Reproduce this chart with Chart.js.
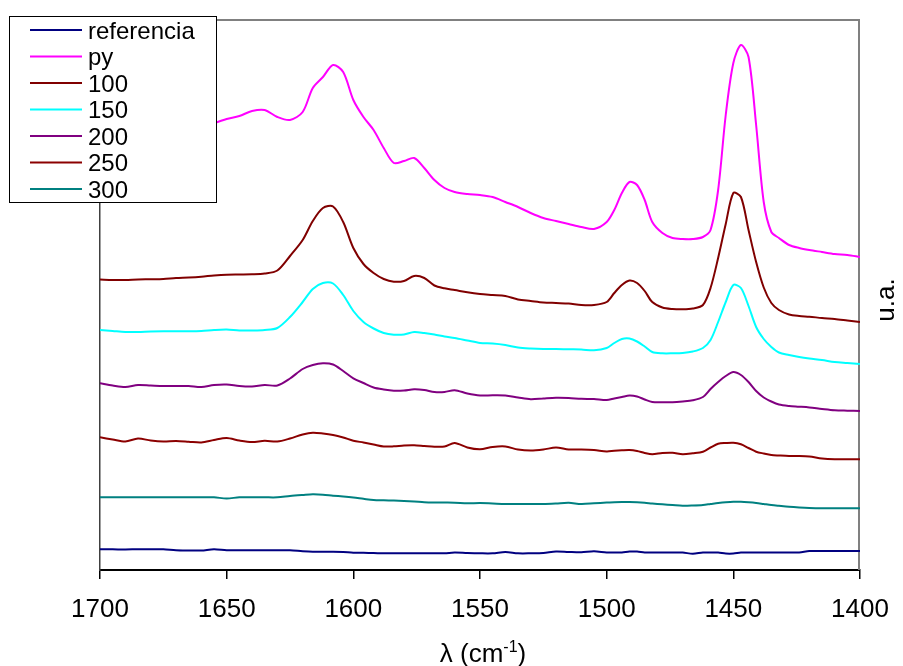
<!DOCTYPE html>
<html>
<head>
<meta charset="utf-8">
<script src="https://cdn.jsdelivr.net/npm/chart.js@4/dist/chart.umd.min.js"></script>
<style>
  html, body { margin: 0; padding: 0; background: #ffffff; }
  #wrap { width: 903px; height: 666px; }
</style>
</head>
<body>
<div id="wrap"><canvas id="c" width="903" height="666"></canvas></div>
<script>
// Wavenumber grid (cm-1), shared by every spectrum; denser around the bands.
const wavenumbers = [
  1700,1695,1690,1685,1680,1675,1670,1665,1660,1655,1650,1645,1640,1635,1630,1625,1620,
  1616,1612,1608,1604,1600,1596,1592,1588,1584,1580,1576,1572,1568,1564,1560,
  1555,1550,1545,1540,1535,1530,1525,1520,1515,1510,1505,1500,
  1497,1494,1491,1488,1485,1482,
  1478,1474,1470,1466,1462,
  1459,1456,1453,1450,1447,1444,1441,1438,1435,1432,
  1428,1424,1420,
  1415,1410,1405,1400
];

// Stacked spectra, arbitrary units (u.a.)
const referencia = [
  0.207,0.207,0.205,0.208,0.208,0.208,0.197,0.195,0.195,0.207,0.197,0.197,0.197,0.197,0.197,0.197,0.188,
  0.183,0.183,0.183,0.180,0.173,0.172,0.170,0.167,0.167,0.167,0.167,0.167,0.167,0.167,0.175,
  0.170,0.167,0.167,0.180,0.167,0.167,0.170,0.185,0.180,0.177,0.187,0.175,
  0.175,0.175,0.185,0.185,0.175,0.175,
  0.175,0.175,0.175,0.162,0.175,
  0.175,0.175,0.165,0.165,0.175,0.175,0.175,0.175,0.175,0.175,
  0.175,0.175,0.190,
  0.190,0.190,0.190,0.190
];
const py = [
  4.25,4.28,4.31,4.34,4.36,4.39,4.41,4.43,4.45,4.47,4.51,4.54,4.59,4.60,4.53,4.50,4.58,
  4.82,4.93,5.05,4.98,4.70,4.53,4.40,4.22,4.07,4.09,4.12,4.02,3.90,3.82,3.78,
  3.76,3.75,3.73,3.68,3.63,3.57,3.52,3.49,3.46,3.43,3.41,3.48,
  3.60,3.77,3.88,3.85,3.70,3.48,
  3.37,3.32,3.31,3.31,3.33,
  3.40,3.80,4.55,5.07,5.25,5.13,4.45,3.68,3.38,3.32,
  3.25,3.22,3.20,
  3.18,3.16,3.15,3.13
];
const s100 = [
  2.905,2.900,2.900,2.905,2.907,2.910,2.920,2.925,2.933,2.945,2.953,2.955,2.957,2.965,2.995,3.140,3.300,
  3.490,3.620,3.635,3.480,3.220,3.060,2.970,2.910,2.883,2.890,2.940,2.920,2.845,2.817,2.800,
  2.777,2.760,2.750,2.740,2.705,2.690,2.675,2.670,2.665,2.650,2.650,2.680,
  2.770,2.850,2.895,2.870,2.790,2.680,
  2.625,2.610,2.607,2.615,2.650,
  2.820,3.120,3.460,3.770,3.730,3.400,3.080,2.825,2.670,2.600,
  2.555,2.540,2.533,
  2.520,2.510,2.495,2.480
];
const s150 = [
  2.400,2.390,2.380,2.380,2.385,2.387,2.387,2.387,2.390,2.400,2.405,2.395,2.395,2.400,2.420,2.530,2.680,
  2.810,2.870,2.865,2.750,2.590,2.480,2.415,2.370,2.353,2.355,2.380,2.370,2.355,2.335,2.320,
  2.295,2.270,2.265,2.250,2.225,2.215,2.210,2.210,2.207,2.205,2.197,2.220,
  2.270,2.310,2.315,2.285,2.235,2.180,
  2.167,2.167,2.170,2.185,2.220,
  2.300,2.480,2.680,2.850,2.820,2.640,2.430,2.310,2.230,2.175,
  2.150,2.130,2.115,
  2.100,2.080,2.070,2.060
];
const s200 = [
  1.867,1.845,1.830,1.850,1.845,1.840,1.840,1.840,1.830,1.850,1.855,1.840,1.835,1.850,1.845,1.915,2.010,
  2.050,2.067,2.055,1.990,1.917,1.870,1.825,1.805,1.793,1.795,1.807,1.800,1.780,1.780,1.798,
  1.765,1.745,1.747,1.745,1.725,1.707,1.715,1.722,1.720,1.712,1.710,1.700,
  1.715,1.730,1.745,1.735,1.705,1.680,
  1.677,1.677,1.685,1.697,1.730,
  1.810,1.880,1.940,1.980,1.950,1.880,1.790,1.725,1.685,1.655,
  1.640,1.633,1.625,
  1.610,1.597,1.593,1.590
];
const s250 = [
  1.327,1.305,1.285,1.315,1.295,1.285,1.290,1.283,1.275,1.300,1.320,1.295,1.280,1.292,1.285,1.315,1.355,
  1.373,1.365,1.350,1.325,1.293,1.275,1.255,1.235,1.237,1.245,1.247,1.240,1.233,1.235,1.270,
  1.225,1.207,1.230,1.235,1.205,1.195,1.205,1.225,1.205,1.205,1.200,1.185,
  1.192,1.197,1.200,1.190,1.170,1.157,
  1.170,1.172,1.157,1.167,1.183,
  1.225,1.262,1.270,1.273,1.257,1.220,1.183,1.165,1.150,1.145,
  1.140,1.140,1.135,
  1.115,1.107,1.107,1.107
];
const s300 = [
  0.727,0.727,0.727,0.727,0.727,0.727,0.727,0.727,0.727,0.727,0.715,0.727,0.727,0.727,0.727,0.740,0.750,
  0.757,0.753,0.743,0.735,0.725,0.712,0.700,0.697,0.694,0.690,0.685,0.678,0.675,0.674,0.673,
  0.667,0.670,0.665,0.660,0.660,0.660,0.660,0.665,0.672,0.660,0.667,0.675,
  0.678,0.680,0.680,0.677,0.672,0.665,
  0.657,0.650,0.643,0.645,0.650,
  0.660,0.670,0.678,0.683,0.682,0.677,0.670,0.660,0.650,0.642,
  0.632,0.625,0.620,
  0.617,0.617,0.617,0.617
];

const seriesNames  = ['referencia', 'py', '100', '150', '200', '250', '300'];
const seriesValues = [referencia, py, s100, s150, s200, s250, s300];
const seriesColors = ['#000080', '#FF00FF', '#800000', '#00FFFF', '#800080', '#8B0000', '#008080'];

const xTicks = [1700, 1650, 1600, 1550, 1500, 1450, 1400];
const xTitle = ['λ (cm', '-1', ')'];
const yTitle = 'u.a.';

const FONT = '"Liberation Sans", Arial, "DejaVu Sans", sans-serif';

const datasets = seriesNames.map((name, i) => ({
  label: name,
  data: wavenumbers.map((w, k) => ({ x: w, y: seriesValues[i][k] })),
  borderColor: seriesColors[i],
  backgroundColor: seriesColors[i],
  borderWidth: 2,
  pointRadius: 0,
  fill: false,
  tension: 0.3
}));

// Frame, axis titles and the boxed legend drawn on the canvas.
const decorations = {
  id: 'decorations',
  beforeDatasetsDraw(chart) {
    const { ctx, chartArea: a } = chart;
    ctx.save();
    ctx.strokeStyle = '#808080';
    ctx.lineWidth = 2;
    ctx.beginPath();
    ctx.moveTo(a.left, a.top);
    ctx.lineTo(a.right - 1, a.top);
    ctx.lineTo(a.right - 1, a.bottom);
    ctx.stroke();
    ctx.restore();
  },
  afterDraw(chart) {
    const { ctx, chartArea: a } = chart;
    ctx.save();

    // x-axis title with superscript
    ctx.fillStyle = '#000';
    ctx.textBaseline = 'alphabetic';
    ctx.font = '26px ' + FONT;
    const mainW = ctx.measureText(xTitle[0]).width;
    ctx.font = '16px ' + FONT;
    const supW = ctx.measureText(xTitle[1]).width;
    ctx.font = '26px ' + FONT;
    const endW = ctx.measureText(xTitle[2]).width;
    const total = mainW + supW + endW;
    let tx = (a.left + a.right) / 2 + 3 - total / 2;
    const ty = 662;
    ctx.textAlign = 'left';
    ctx.fillText(xTitle[0], tx, ty);
    tx += mainW;
    ctx.font = '16px ' + FONT;
    ctx.fillText(xTitle[1], tx, ty - 10);
    tx += supW;
    ctx.font = '26px ' + FONT;
    ctx.fillText(xTitle[2], tx, ty);

    // right-hand y title, reading bottom to top
    ctx.save();
    ctx.translate(887, 300);
    ctx.rotate(-Math.PI / 2);
    ctx.textAlign = 'center';
    ctx.textBaseline = 'middle';
    ctx.font = '26px ' + FONT;
    ctx.fillText(yTitle, 0, 0);
    ctx.restore();

    // legend box
    const bx = 9.5, by = 16.5, bw = 207, bh = 186;
    ctx.fillStyle = '#ffffff';
    ctx.fillRect(bx, by, bw, bh);
    ctx.strokeStyle = '#000000';
    ctx.lineWidth = 1;
    ctx.strokeRect(bx, by, bw, bh);
    ctx.font = '24px ' + FONT;
    ctx.textAlign = 'left';
    ctx.textBaseline = 'middle';
    chart.data.datasets.forEach((ds, i) => {
      const ry = 30 + i * 26.5;
      ctx.strokeStyle = ds.borderColor;
      ctx.lineWidth = 2;
      ctx.beginPath();
      ctx.moveTo(30, ry);
      ctx.lineTo(82, ry);
      ctx.stroke();
      ctx.fillStyle = '#000';
      ctx.fillText(ds.label, 88, ry + 2);
    });
    ctx.restore();
  }
};

new Chart(document.getElementById('c'), {
  type: 'line',
  data: { datasets },
  plugins: [decorations],
  options: {
    responsive: false,
    devicePixelRatio: 1,
    animation: false,
    events: [],
    layout: { padding: { top: 20, right: 43, left: 0, bottom: 0 } },
    plugins: { legend: { display: false }, tooltip: { enabled: false } },
    scales: {
      x: {
        type: 'linear',
        reverse: true,
        min: 1400,
        max: 1700,
        afterBuildTicks(scale) { scale.ticks = xTicks.map(v => ({ value: v })); },
        afterFit(scale) {
          scale.height = 96;
          scale.paddingLeft = 0;
          scale.paddingRight = 0;
        },
        grid: { display: true, drawOnChartArea: false, drawTicks: true, tickLength: 9, color: '#000', lineWidth: 1.5 },
        border: { display: true, color: '#000', width: 2 },
        ticks: {
          color: '#000',
          font: { family: FONT, size: 26 },
          padding: 15,
          maxRotation: 0,
          autoSkip: false,
          callback: (v) => String(v)
        }
      },
      y: {
        type: 'linear',
        min: 0,
        max: 5.5,
        afterFit(scale) { scale.width = 100; },
        grid: { display: false },
        border: { display: true, color: '#404040', width: 1.5 },
        ticks: { display: false }
      }
    }
  }
});
</script>
</body>
</html>
